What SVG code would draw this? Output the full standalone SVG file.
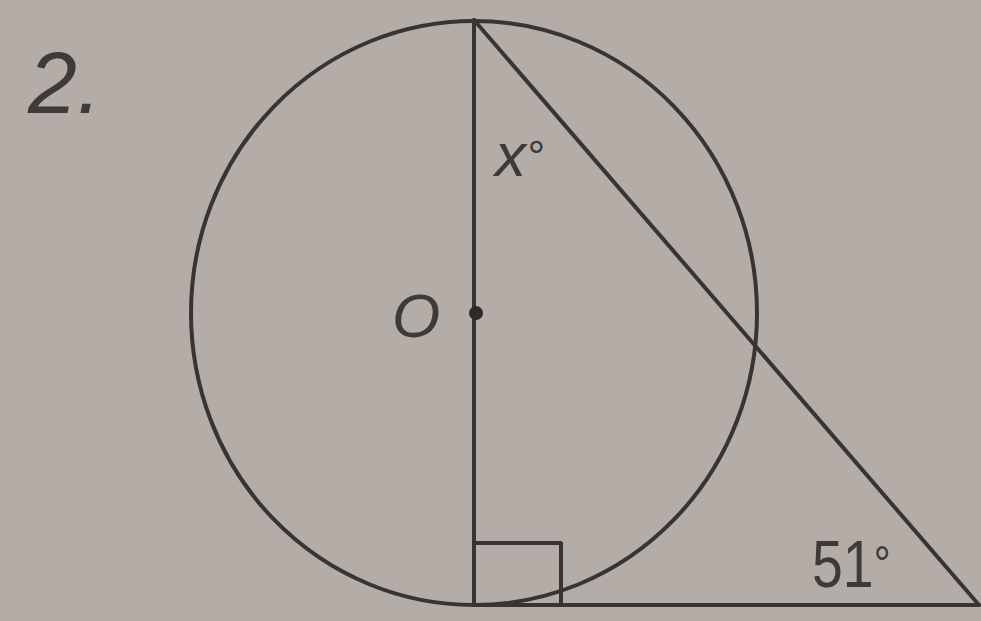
<svg xmlns="http://www.w3.org/2000/svg" width="981" height="621" viewBox="0 0 981 621">
<style>
.ln{fill:none;stroke:#393434;stroke-width:4;stroke-linecap:round;stroke-linejoin:round}
.lb{font-family:"Liberation Sans",Arial,sans-serif;fill:#3e3a3a}
</style>
<rect x="0" y="0" width="981" height="621" fill="#b4ada7"/>
<g id="circle">
<ellipse class="ln" cx="474" cy="313" rx="283" ry="292"/>
</g>
<g id="connectors">
<line class="ln" x1="474" y1="20" x2="474" y2="605"/>
<line class="ln" x1="474" y1="20" x2="979" y2="605"/>
<line class="ln" x1="474" y1="605" x2="979" y2="605"/>
<polyline class="ln" points="474,543 561,543 561,605" stroke-width="3.5"/>
</g>
<g id="center-O">
<circle cx="476" cy="313" r="7" fill="#2f2a2a"/>
<text class="lb" x="392" y="337" font-size="62" font-style="italic">O</text>
</g>
<g id="label-x">
<text class="lb" x="495" y="176" font-size="62" font-style="italic">x<tspan font-size="44" dy="-4">°</tspan></text>
</g>
<g id="label-51">
<text class="lb" transform="translate(812,587) scale(0.84,1)" font-size="66">51<tspan font-size="50" dy="-6">°</tspan></text>
</g>
<g id="label-2">
<text class="lb" x="28" y="113" font-size="88" font-style="italic">2.</text>
</g>
</svg>
